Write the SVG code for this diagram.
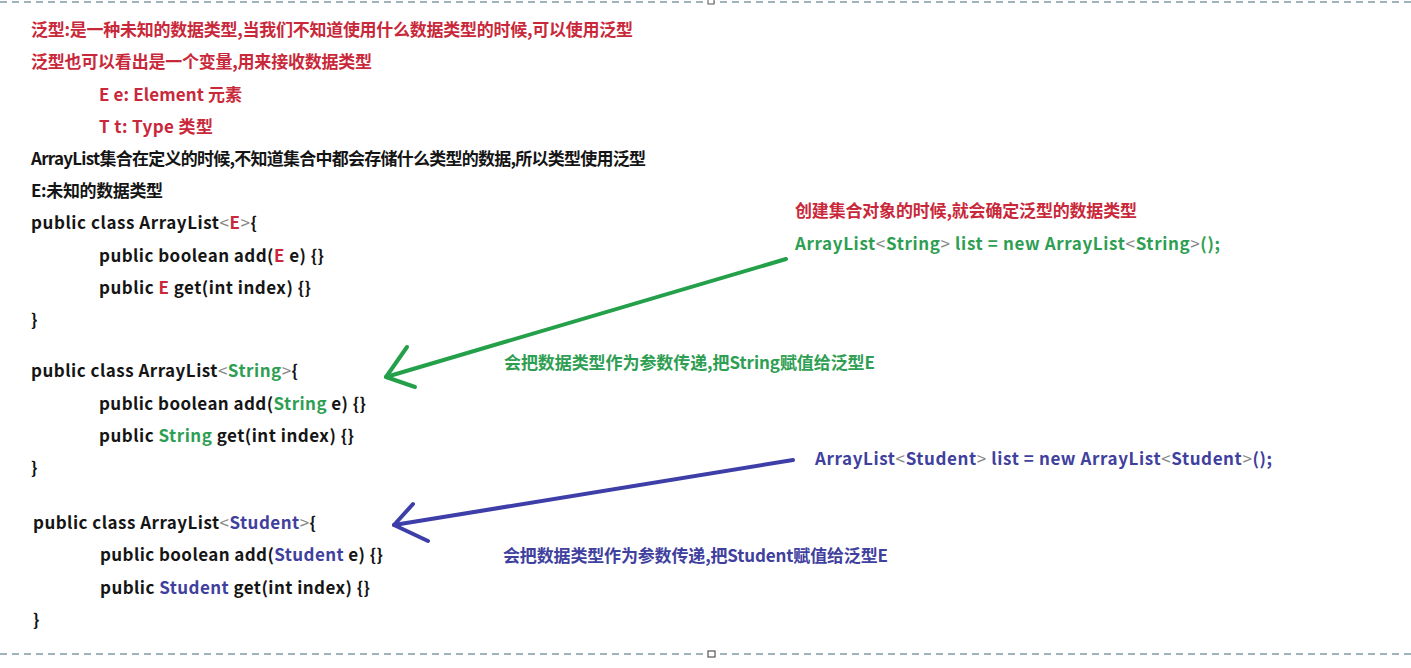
<svg xmlns="http://www.w3.org/2000/svg" width="1411" height="668" viewBox="0 0 1411 668">
<style>
text{font-family:"Noto Sans CJK SC","Liberation Sans",sans-serif;font-size:17px;font-weight:bold;fill:#151515}
.r{fill:#c9283a}
.g{fill:#2e9e52}
.b{fill:#40409e}
.lt{font-weight:normal;fill:#888}
.border{stroke:#7f9ca8;stroke-width:1.5;stroke-dasharray:7 5;fill:none}
.ag{stroke:#24a04a;stroke-width:4;fill:none;stroke-linecap:round;stroke-linejoin:round}
.ab{stroke:#3e3ea8;stroke-width:4;fill:none;stroke-linecap:round;stroke-linejoin:round}
</style>
<rect width="1411" height="668" fill="#ffffff"/>
<g id="frame">
<line class="border" x1="0" y1="2" x2="1411" y2="2"/>
<line class="border" x1="0" y1="654" x2="1411" y2="654"/>
<rect x="708" y="-1" width="6" height="5" fill="#fff" stroke="#555" stroke-width="1"/>
<rect x="708" y="651" width="7" height="6" fill="#fff" stroke="#555" stroke-width="1.2"/>
</g>
<g id="intro">
<text x="31" y="36" class="r" textLength="602" lengthAdjust="spacing">泛型:是一种未知的数据类型,当我们不知道使用什么数据类型的时候,可以使用泛型</text>
<text x="31" y="68" class="r" textLength="341" lengthAdjust="spacing">泛型也可以看出是一个变量,用来接收数据类型</text>
<text x="99" y="101" class="r" textLength="143" lengthAdjust="spacing">E e: Element 元素</text>
<text x="99" y="133" class="r" textLength="114" lengthAdjust="spacing">T t: Type 类型</text>
<text x="31" y="165" textLength="615" lengthAdjust="spacing">ArrayList集合在定义的时候,不知道集合中都会存储什么类型的数据,所以类型使用泛型</text>
<text x="31" y="197" textLength="132" lengthAdjust="spacing">E:未知的数据类型</text>
</g>
<g id="class-E">
<text x="31" y="229" textLength="226" lengthAdjust="spacing">public class ArrayList<tspan class="lt">&lt;</tspan><tspan class="r">E</tspan><tspan class="lt">&gt;</tspan>{</text>
<text x="99" y="262" textLength="225" lengthAdjust="spacing">public boolean add(<tspan class="r">E</tspan> e) {}</text>
<text x="99" y="294" textLength="212" lengthAdjust="spacing">public <tspan class="r">E</tspan> get(int index) {}</text>
<text x="31" y="326">}</text>
</g>
<g id="class-String">
<text x="31" y="377" textLength="267" lengthAdjust="spacing">public class ArrayList<tspan class="lt">&lt;</tspan><tspan class="g">String</tspan><tspan class="lt">&gt;</tspan>{</text>
<text x="99" y="410" textLength="267" lengthAdjust="spacing">public boolean add(<tspan class="g">String</tspan> e) {}</text>
<text x="99" y="442" textLength="255" lengthAdjust="spacing">public <tspan class="g">String</tspan> get(int index) {}</text>
<text x="31" y="474">}</text>
</g>
<g id="class-Student">
<text x="33" y="529" textLength="283" lengthAdjust="spacing">public class ArrayList<tspan class="lt">&lt;</tspan><tspan class="b">Student</tspan><tspan class="lt">&gt;</tspan>{</text>
<text x="100" y="561" textLength="283" lengthAdjust="spacing">public boolean add(<tspan class="b">Student</tspan> e) {}</text>
<text x="100" y="594" textLength="270" lengthAdjust="spacing">public <tspan class="b">Student</tspan> get(int index) {}</text>
<text x="33" y="626">}</text>
</g>
<g id="note-create">
<text x="795" y="217" class="r" textLength="342" lengthAdjust="spacing">创建集合对象的时候,就会确定泛型的数据类型</text>
<text x="795" y="250" class="g" textLength="425" lengthAdjust="spacing">ArrayList<tspan class="lt">&lt;</tspan>String<tspan class="lt">&gt;</tspan> list = new ArrayList<tspan class="lt">&lt;</tspan>String<tspan class="lt">&gt;</tspan>();</text>
</g>
<g id="note-string">
<text x="504" y="369" class="g" textLength="371" lengthAdjust="spacing">会把数据类型作为参数传递,把String赋值给泛型E</text>
</g>
<g id="note-student-new">
<text x="815" y="465" class="b" textLength="457" lengthAdjust="spacing">ArrayList<tspan class="lt">&lt;</tspan>Student<tspan class="lt">&gt;</tspan> list = new ArrayList<tspan class="lt">&lt;</tspan>Student<tspan class="lt">&gt;</tspan>();</text>
</g>
<g id="note-student">
<text x="503" y="562" class="b" textLength="385" lengthAdjust="spacing">会把数据类型作为参数传递,把Student赋值给泛型E</text>
</g>
<g id="connectors">
<line class="ag" x1="786" y1="259" x2="386" y2="377"/>
<polyline class="ag" points="407,347 386,377 415,387"/>
<line class="ab" x1="793" y1="460" x2="394" y2="525"/>
<polyline class="ab" points="413,504 394,525 428,541"/>
</g>
</svg>
